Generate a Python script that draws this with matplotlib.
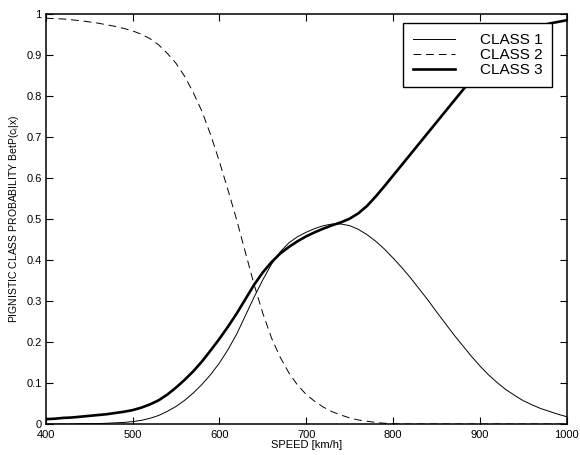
import matplotlib
matplotlib.use("Agg")
import matplotlib.pyplot as plt

# speed grid [km/h], 10 km/h steps, probabilities
speed = list(range(400, 1001, 10))

class1 = [0.000, 0.000, 0.000, 0.000, 0.001, 0.001, 0.001, 0.002, 0.003, 0.004,
          0.006, 0.009, 0.014, 0.021, 0.031, 0.043, 0.058, 0.076, 0.097, 0.121,
          0.149, 0.182, 0.220, 0.265, 0.310, 0.352, 0.390, 0.420, 0.442, 0.457,
          0.468, 0.477, 0.484, 0.488, 0.488, 0.484, 0.475, 0.462, 0.446, 0.427,
          0.405, 0.382, 0.357, 0.330, 0.303, 0.274, 0.246, 0.218, 0.192, 0.166,
          0.142, 0.120, 0.101, 0.084, 0.070, 0.057, 0.047, 0.038, 0.031, 0.024,
          0.018]

class2 = [0.990, 0.989, 0.988, 0.986, 0.984, 0.981, 0.978, 0.974, 0.970, 0.965,
          0.959, 0.951, 0.940, 0.925, 0.904, 0.880, 0.848, 0.808, 0.762, 0.705,
          0.640, 0.570, 0.497, 0.418, 0.340, 0.270, 0.210, 0.163, 0.125, 0.095,
          0.072, 0.055, 0.041, 0.030, 0.022, 0.015, 0.010, 0.007, 0.004, 0.002,
          0.001, 0.000, 0.000, 0.000, 0.000, 0.000, 0.000, 0.000, 0.000, 0.000,
          0.000, 0.000, 0.000, 0.000, 0.000, 0.000, 0.000, 0.000, 0.000, 0.000,
          0.000]

class3 = [0.012, 0.013, 0.015, 0.016, 0.018, 0.020, 0.022, 0.024, 0.027, 0.030,
          0.034, 0.040, 0.048, 0.058, 0.072, 0.089, 0.108, 0.129, 0.153, 0.180,
          0.208, 0.238, 0.270, 0.305, 0.340, 0.370, 0.395, 0.416, 0.432, 0.446,
          0.458, 0.468, 0.477, 0.485, 0.492, 0.501, 0.514, 0.532, 0.555, 0.580,
          0.606, 0.632, 0.658, 0.684, 0.710, 0.736, 0.762, 0.788, 0.814, 0.839,
          0.863, 0.886, 0.906, 0.924, 0.940, 0.953, 0.963, 0.971, 0.977, 0.981,
          0.985]

labels = ["CLASS 1", "CLASS 2", "CLASS 3"]
xticks = [400, 500, 600, 700, 800, 900, 1000]
yticks = [0, 0.1, 0.2, 0.3, 0.4, 0.5, 0.6, 0.7, 0.8, 0.9, 1]
yticklabels = ["0", "0.1", "0.2", "0.3", "0.4", "0.5", "0.6", "0.7", "0.8", "0.9", "1"]

plt.rcParams["font.family"] = ["Liberation Sans", "DejaVu Sans"]

fig = plt.figure(figsize=(5.8, 4.55), dpi=100)
ax = fig.add_axes([0.079, 0.068, 0.898, 0.901])

ax.plot(speed, class1, color="black", lw=0.7, label=labels[0])
ax.plot(speed, class2, color="black", lw=0.7, ls=(0, (8, 5)), label=labels[1])
ax.plot(speed, class3, color="black", lw=1.9, label=labels[2])

ax.set_xlim(400, 1000)
ax.set_ylim(0, 1)
ax.set_xticks(xticks)
ax.set_yticks(yticks)
ax.set_yticklabels(yticklabels)
ax.tick_params(direction="in", top=True, right=True, length=5, width=0.8,
               labelsize=8)
ax.tick_params(axis="x", pad=4)
ax.tick_params(axis="y", pad=3)
for sp in ax.spines.values():
    sp.set_linewidth(1.1)

ax.set_xlabel("SPEED [km/h]", fontsize=8, labelpad=0)
ax.set_ylabel(r"PIGNISTIC CLASS PROBABILITY BetP(c$_\mathregular{i}$|x)",
              fontsize=7.5, labelpad=4)

leg = ax.legend(loc="upper right", bbox_to_anchor=(0.972, 0.978), borderaxespad=0,
                fontsize=11, fancybox=False, framealpha=1, edgecolor="black",
                handlelength=2.75, handletextpad=1.6, labelspacing=0.08,
                borderpad=0.65)
leg.get_frame().set_linewidth(1.0)

fig.savefig("out.png", dpi=100)
